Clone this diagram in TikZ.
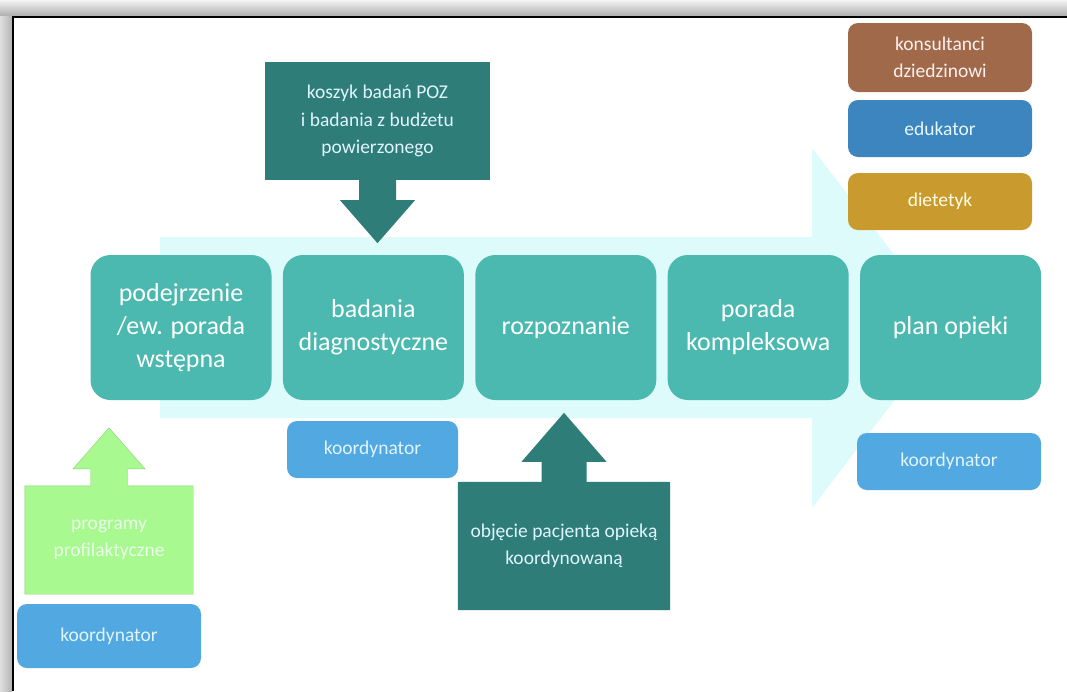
\documentclass[tikz,border=0pt]{standalone}
\usepackage{fontspec}
\setmainfont{Carlito}
\usetikzlibrary{positioning}

\definecolor{flowbg}{RGB}{222,251,251}
\definecolor{stageteal}{RGB}{75,185,175}
\definecolor{darkteal}{RGB}{46,125,120}
\definecolor{coordblue}{RGB}{82,168,224}
\definecolor{edublue}{RGB}{60,133,191}
\definecolor{consbrown}{RGB}{160,105,74}
\definecolor{dietgold}{RGB}{201,154,46}
\definecolor{progreen}{RGB}{168,249,144}
\definecolor{progreenline}{RGB}{140,210,120}

\tikzset{
	stage/.style={fill=stageteal, rounded corners=20pt, minimum width=181pt, minimum height=145pt,
		text=white, align=center, font=\fontsize{26}{33}\selectfont},
	role/.style={rounded corners=10pt, minimum width=184pt, minimum height=57pt,
		align=center, font=\fontsize{19.5}{27}\selectfont},
	source/.style={align=center, font=\fontsize{19.5}{27.5}\selectfont},
}

\begin{document}
\begin{tikzpicture}[x=1pt, y=-1pt]
		\useasboundingbox (0,0) rectangle (1067,691);
		\fill[gray!45] (0,0) rectangle (1067,691);
		\shade[top color=gray!8, bottom color=gray!65] (0,0) rectangle (1067,16);
		\shade[left color=gray!25, right color=gray!60] (0,16) rectangle (12,691);
		\fill[white] (13,17) rectangle (1067,691);
		\draw[line width=2pt] (1067,17) -- (13,17) -- (13,691);
		\fill[flowbg] (160,237) -- (812,237) -- (812,148) -- (950,327.5) -- (812,508) -- (812,418) -- (160,418) -- cycle;
		\node[stage] (suspect) at (181,327.5) {podejrzenie\\/ew. porada\\wstępna};
		\node[stage, right=11pt of suspect] (tests) {badania\\diagnostyczne};
		\node[stage, right=11pt of tests] (diagnosis) {rozpoznanie};
		\node[stage, right=11pt of diagnosis] (advice) {porada\\kompleksowa};
		\node[stage, right=11pt of advice] (plan) {plan opieki};
		\node[source, fill=darkteal, text=white!88!cyan, minimum width=225pt, minimum height=118pt] (basket) at (377.5,121) {koszyk badań POZ\\i badania z budżetu\\powierzonego};
		\fill[darkteal] ([xshift=-18.5pt]basket.south) -- ([xshift=-18.5pt, yshift=-20pt]basket.south) -- ([xshift=-37.5pt, yshift=-20pt]basket.south) -- ([yshift=-63pt]basket.south) -- ([xshift=37.5pt, yshift=-20pt]basket.south) -- ([xshift=18.5pt, yshift=-20pt]basket.south) -- ([xshift=18.5pt]basket.south) -- cycle;
		\node[source, minimum width=212pt, minimum height=128pt] (enrol) at (564,546) {};
		\fill[darkteal] (enrol.south west) -- (enrol.north west) -- ([xshift=-22.5pt]enrol.north) -- ([xshift=-22.5pt, yshift=20pt]enrol.north) -- ([xshift=-42.5pt, yshift=20pt]enrol.north) -- ([yshift=69pt]enrol.north) -- ([xshift=42.5pt, yshift=20pt]enrol.north) -- ([xshift=22.5pt, yshift=20pt]enrol.north) -- ([xshift=22.5pt]enrol.north) -- (enrol.north east) -- (enrol.south east) -- cycle;
		\node[source, text=white!88!cyan] at (enrol) {objęcie pacjenta opieką\\koordynowaną};
		\node[source, minimum width=168pt, minimum height=108pt] (prevention) at (109,540) {};
		\draw[fill=progreen, draw=progreenline] (prevention.south west) -- (prevention.north west) -- ([xshift=-18.5pt]prevention.north) -- ([xshift=-18.5pt, yshift=17pt]prevention.north) -- ([xshift=-36pt, yshift=17pt]prevention.north) -- ([yshift=58pt]prevention.north) -- ([xshift=36pt, yshift=17pt]prevention.north) -- ([xshift=18.5pt, yshift=17pt]prevention.north) -- ([xshift=18.5pt]prevention.north) -- (prevention.north east) -- (prevention.south east) -- cycle;
		\node[source, text=green!8!white] at (prevention) {programy\\profilaktyczne};
		\node[role, fill=coordblue, text=cyan!12!white, minimum height=64pt] (coordA) at (109,636) {koordynator};
		\node[role, fill=coordblue, text=cyan!12!white, minimum width=171pt] (coordB) at (372.5,449.5) {koordynator};
		\node[role, fill=coordblue, text=cyan!12!white] (coordC) at (949,461.5) {koordynator};
		\node[role, fill=consbrown, text=red!6!white, minimum height=69pt] (consultants) at (940,57.5) {konsultanci\\dziedzinowi};
		\node[role, fill=edublue, text=cyan!10!white] (educator) at (940,128.5) {edukator};
		\node[role, fill=dietgold, text=yellow!10!white] (dietitian) at (940,201.5) {dietetyk};
	\end{tikzpicture}
\end{document}
